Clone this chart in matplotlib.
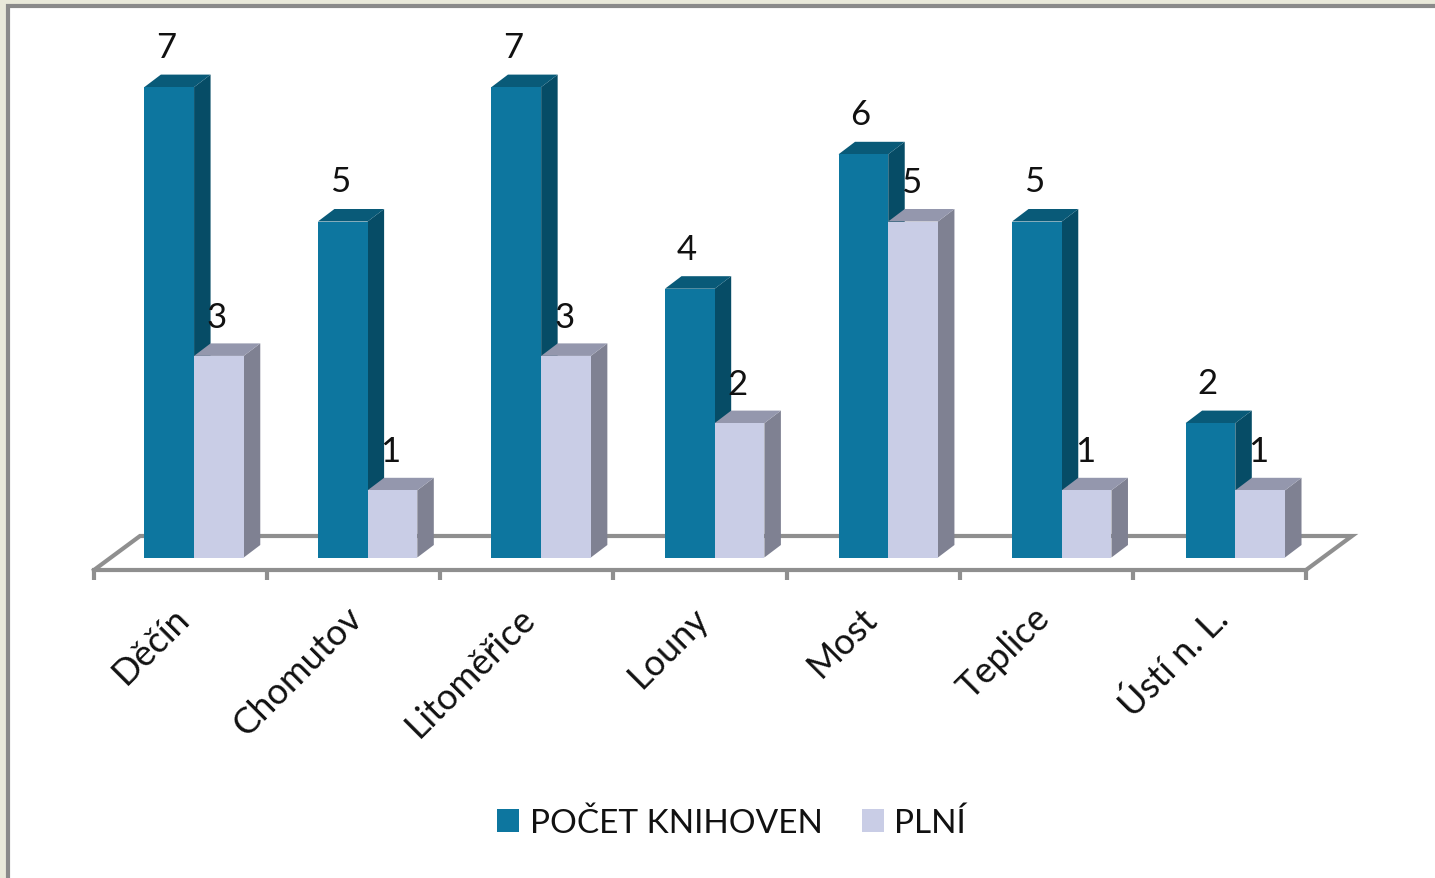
"""Sloupcový graf s 3D vzhledem: počet knihoven a kolik jich plní, podle okresů."""
import matplotlib; matplotlib.use("Agg")
import matplotlib.pyplot as plt
from matplotlib.patches import Patch, Polygon, Rectangle

okresy = ["Děčín", "Chomutov", "Litoměřice", "Louny", "Most", "Teplice", "Ústí n. L."]
pocet = [7, 5, 7, 4, 6, 5, 2]
plni = [3, 1, 3, 2, 5, 1, 1]

W, H = 1435, 879
X0, STEP = 94, 173.14   # px: levý kraj osy, šířka kategorie
Y0, UNIT = 558.5, 67.2  # px: základna sloupců, výška jedné knihovny

plt.rcParams["font.family"] = ["Lato", "DejaVu Sans"]
fig = plt.figure(figsize=(W / 100, H / 100), dpi=100, facecolor="#e9e9da")
ax = fig.add_axes([0, 0, 1, 1])
ax.set_xlim(-X0 / STEP - 0.5, (W - X0) / STEP - 0.5)
ax.set_ylim((Y0 - H) / UNIT, Y0 / UNIT)
ax.axis("off")

# převody px -> data pro odsazení hloubky
dpx = lambda p: p / STEP
dpy = lambda p: p / UNIT
BW = dpx(49.7)
DX, DY = dpx(16.5), dpy(12.5)
FRONT = dpy(-12.5)                   # přední hrana podlahy
FDX, FDY = dpx(46), dpy(34)
POSUN = dpx(13.5)                    # sloupce nejsou přesně uprostřed kategorie
KROK = 1 + dpx(0.4)                  # sloupce mají o chlup větší rozestup než čárky osy
POSUN_POPISKU = {"Most": -5, "Teplice": -5}  # px, popisky jinak sedí


def px_x(p):
    return (p - X0) / STEP - 0.5


def px_y(p):
    return (Y0 - p) / UNIT


# bílá plocha s šedým rámem
ax.add_patch(Rectangle((px_x(8), px_y(H + 20)), dpx(W), dpy(H + 20 - 7), fc="white",
                       ec="#8a8a8a", lw=3, zorder=0))

# podlaha
n = len(okresy)
gray = "#8f8f8f"
lx, rx = -0.5, n - 0.5
ax.plot([lx, lx + FDX, rx + FDX, rx], [FRONT, FRONT + FDY, FRONT + FDY, FRONT],
        color=gray, lw=3, solid_joinstyle="miter", zorder=1)
ax.plot([lx, rx], [FRONT, FRONT], color=gray, lw=3, zorder=1)
for i in range(n + 1):
    ax.plot([i - 0.5, i - 0.5], [FRONT, FRONT - dpy(10)], color=gray, lw=3,
            solid_capstyle="butt", zorder=1)


def sloupec(x, v, front, top, side, z):
    ax.add_patch(Polygon([(x + BW, 0), (x + BW + DX, DY), (x + BW + DX, v + DY), (x + BW, v)],
                         fc=side, ec="none", zorder=z))
    ax.add_patch(Polygon([(x, v), (x + DX, v + DY), (x + BW + DX, v + DY), (x + BW, v)],
                         fc=top, ec="none", zorder=z))
    ax.bar(x, v, width=BW, align="edge", color=front, edgecolor="none", zorder=z + 0.1)


for i in range(n):
    xc = i * KROK + POSUN
    sloupec(xc - BW, pocet[i], "#0d769f", "#095a78", "#064c66", 2 + i)
    sloupec(xc, plni[i], "#c9cde6", "#9497ad", "#7f8192", 2.5 + i)
    ax.text(xc - BW + dpx(22), pocet[i] + dpy(40), str(pocet[i]), ha="center", va="center",
            fontsize=25, color="#111", zorder=20)
    ax.text(xc + dpx(23), plni[i] + dpy(39), str(plni[i]), ha="center", va="center",
            fontsize=25, color="#111", zorder=20)
    ax.text(i + dpx(3 + POSUN_POPISKU.get(okresy[i], 0)), px_y(613), okresy[i], rotation=45,
            rotation_mode="anchor", ha="right", va="center", fontsize=26, color="#111", zorder=20)

leg = [Patch(fc="#0d769f", label="POČET KNIHOVEN"), Patch(fc="#c9cde6", label="PLNÍ")]
ax.legend(handles=leg, loc="center", bbox_to_anchor=(731.5 / W, 1 - 824 / H), ncol=2,
          frameon=False, fontsize=24, handlelength=0.66, handleheight=0.66,
          handletextpad=0.32, columnspacing=1.17, labelcolor="#111")

fig.savefig("out.png", dpi=100, facecolor=fig.get_facecolor())
